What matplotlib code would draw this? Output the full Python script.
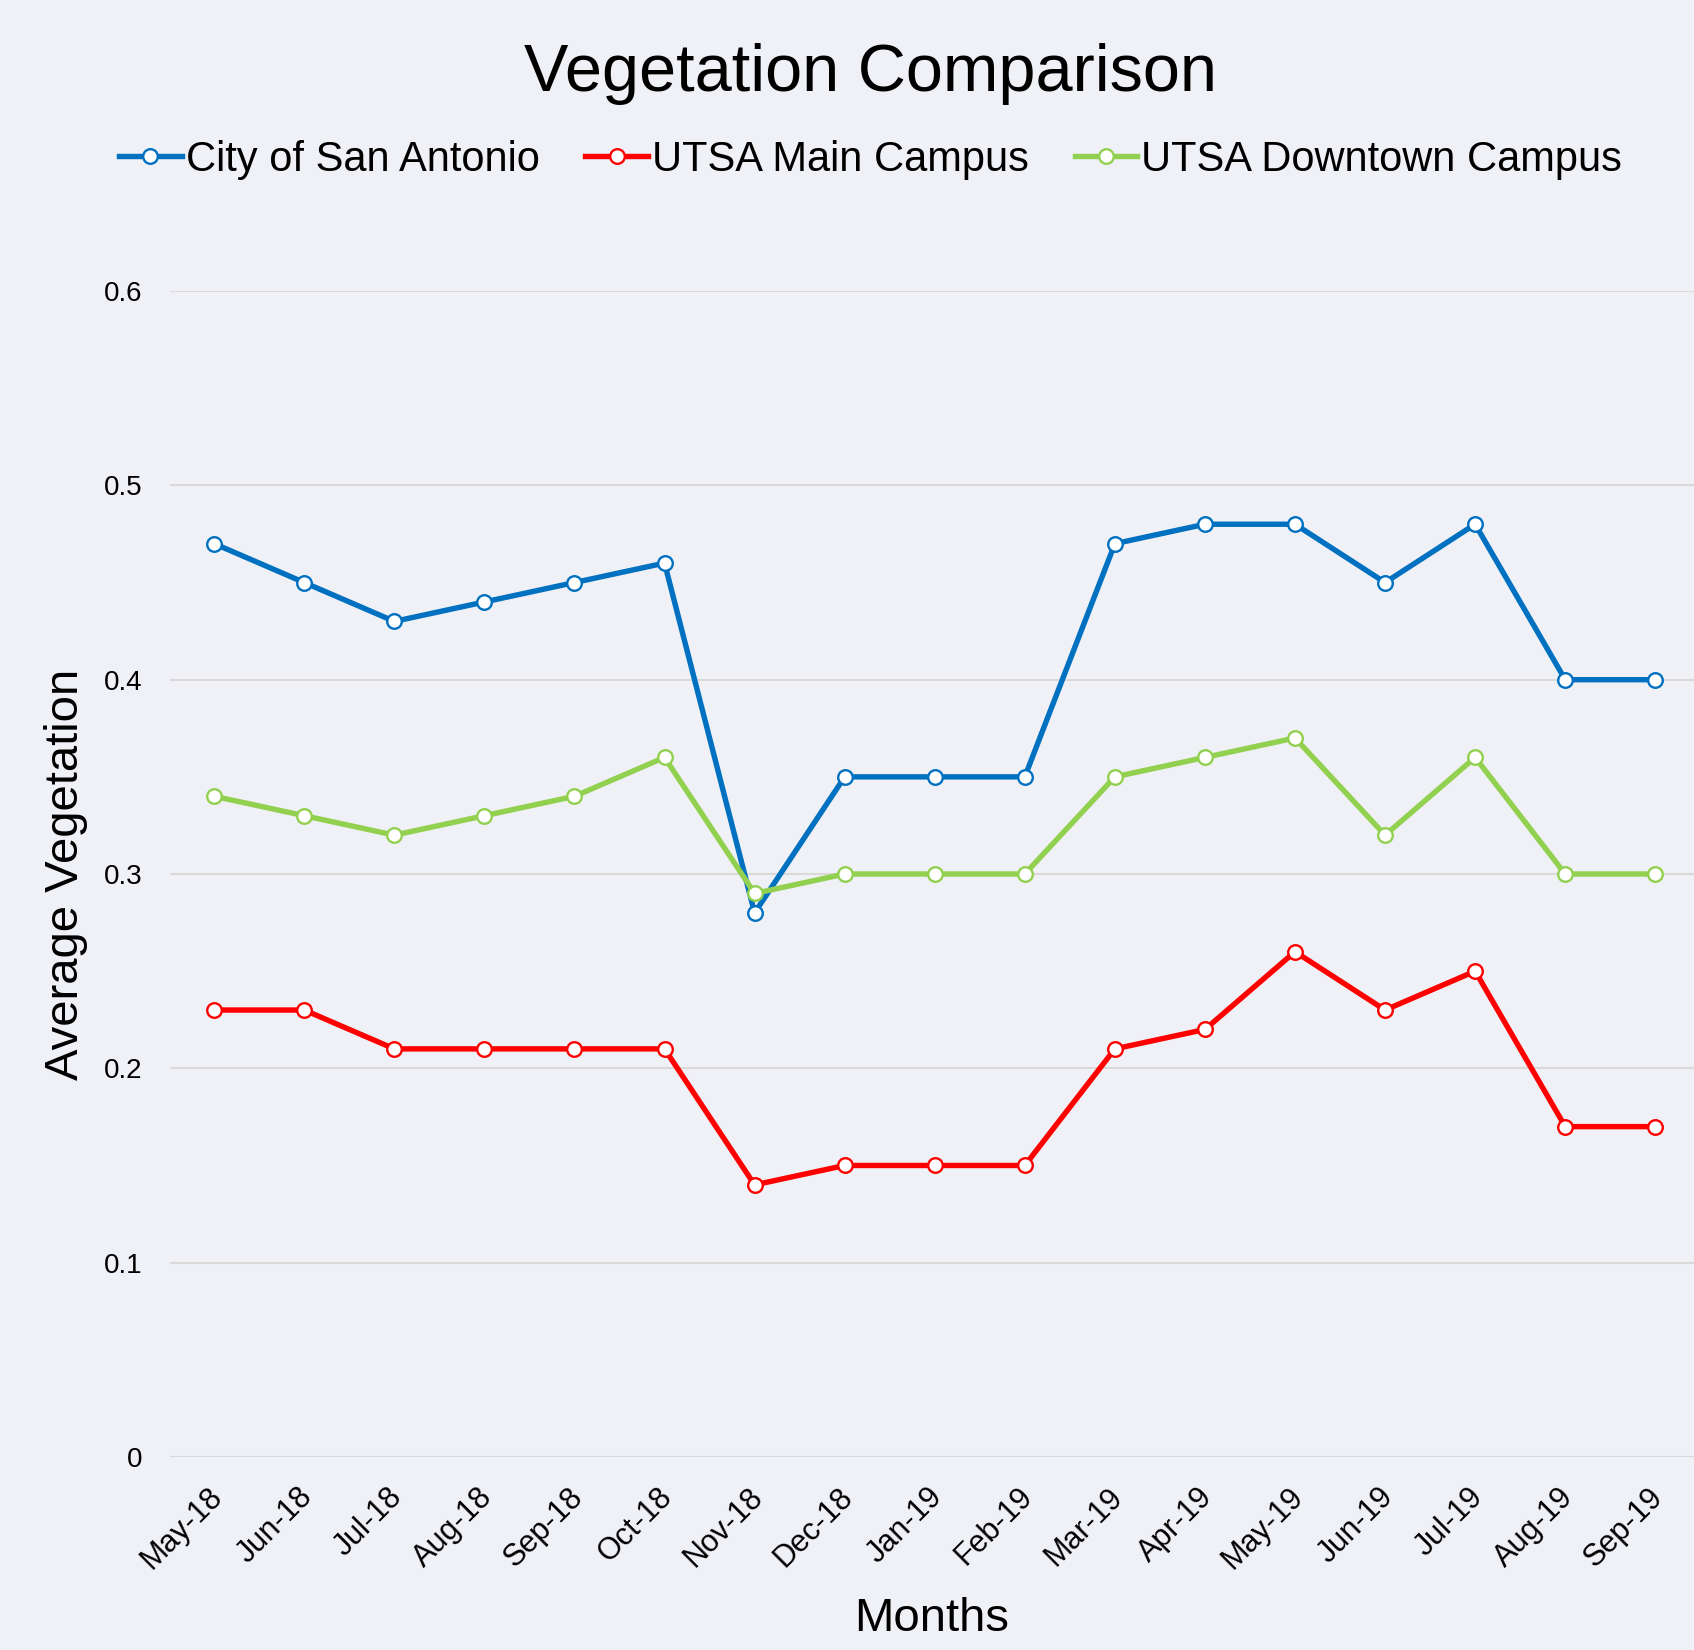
import matplotlib.pyplot as plt
import matplotlib.transforms as mtransforms

months = ["May-18", "Jun-18", "Jul-18", "Aug-18", "Sep-18", "Oct-18", "Nov-18",
          "Dec-18", "Jan-19", "Feb-19", "Mar-19", "Apr-19", "May-19", "Jun-19",
          "Jul-19", "Aug-19", "Sep-19"]
city = [0.47, 0.45, 0.43, 0.44, 0.45, 0.46, 0.28, 0.35, 0.35, 0.35,
        0.47, 0.48, 0.48, 0.45, 0.48, 0.40, 0.40]
main_campus = [0.23, 0.23, 0.21, 0.21, 0.21, 0.21, 0.14, 0.15, 0.15, 0.15,
               0.21, 0.22, 0.26, 0.23, 0.25, 0.17, 0.17]
downtown = [0.34, 0.33, 0.32, 0.33, 0.34, 0.36, 0.29, 0.30, 0.30, 0.30,
            0.35, 0.36, 0.37, 0.32, 0.36, 0.30, 0.30]

plt.rcParams['font.family'] = ['Liberation Sans', 'DejaVu Sans']
bg = '#F0F1F6'

fig = plt.figure(figsize=(16.94, 16.5), dpi=100, facecolor=bg)
ax = fig.add_axes([0.1004, 0.117, 0.8996, 0.7066], facecolor=bg)

x = range(len(months))
series = [(city, '#0070C0', 'City of San Antonio'),
          (main_campus, '#FF0000', 'UTSA Main Campus'),
          (downtown, '#92D050', 'UTSA Downtown Campus')]
for vals, col, name in series:
    ax.plot(x, vals, color=col, lw=3.9, marker='o', ms=10.5, mfc='white',
            mec=col, mew=1.7, label=name)

ax.set_ylim(0, 0.6)
ax.set_xlim(-0.49, 16.43)
ax.set_yticks([0, 0.1, 0.2, 0.3, 0.4, 0.5, 0.6])
ax.set_yticklabels(['0', '0.1', '0.2', '0.3', '0.4', '0.5', '0.6'])
ax.set_xticks(list(x))
ax.set_xticklabels(months, rotation=45, ha='right', va='top', rotation_mode='anchor')
ax.tick_params(axis='y', length=0, pad=20, labelsize=20)
ax.tick_params(axis='x', length=0, pad=18, labelsize=22)
# nudge rotated month labels a little to the left
shift = mtransforms.ScaledTranslation(-0.07, 0, fig.dpi_scale_trans)
for lbl in ax.get_xticklabels():
    lbl.set_transform(lbl.get_transform() + shift)
ax.grid(axis='y', color='#D9D9D9', lw=1.5)
ax.set_axisbelow(True)
for s in ax.spines.values():
    s.set_visible(False)

ax.set_xlabel("Months", fontsize=34)
ax.set_ylabel("Average Vegetation", fontsize=34)
ax.xaxis.set_label_coords(0.5, -0.12)
ax.yaxis.set_label_coords(-0.054, 0.5)

fig.text(0.514, 0.955, "Vegetation Comparison", fontsize=48, ha='center', va='center')
fig.legend(loc='center', bbox_to_anchor=(0.514, 0.903), ncol=3, frameon=False,
           fontsize=30, handlelength=1.5, handletextpad=0.1, columnspacing=1.1)

plt.savefig("out.png", facecolor=bg)
plt.close()
